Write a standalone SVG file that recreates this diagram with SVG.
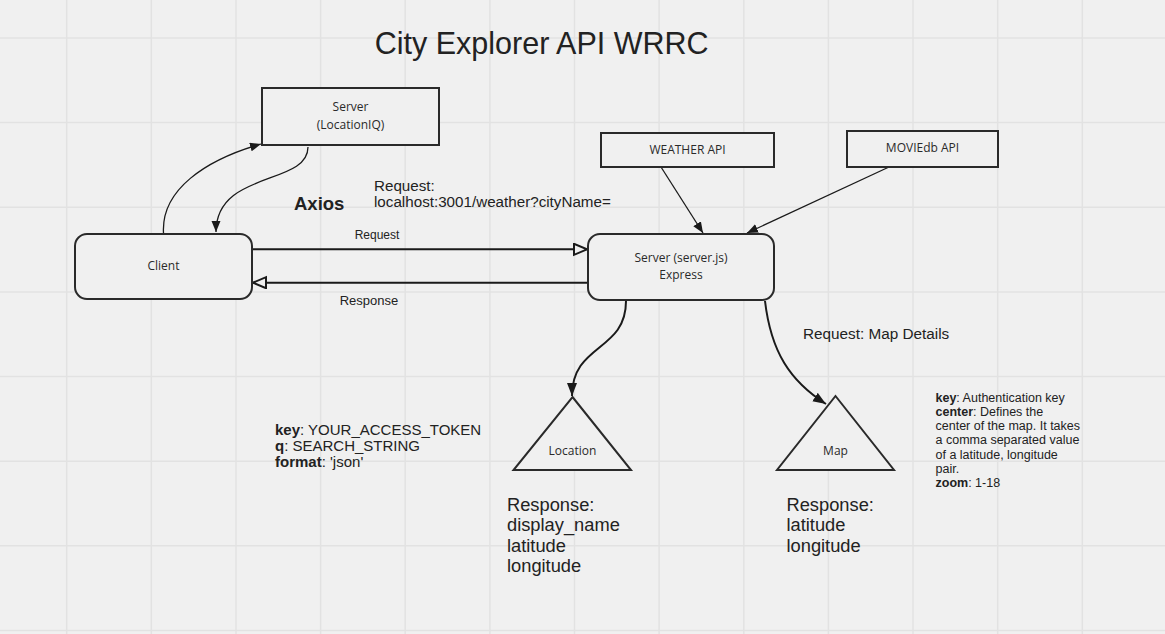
<svg xmlns="http://www.w3.org/2000/svg" width="1165" height="634" viewBox="0 0 1165 634">
<style>
.grid{stroke:#e2e2e2;stroke-width:1.5;fill:none}
.box{fill:#f0f0f0;stroke:#2a2a2a;stroke-width:2}
.lbl{font-family:"Open Sans","Liberation Sans",sans-serif;font-size:12px;fill:#2a2a2a;text-anchor:middle}
.t{font-family:"Liberation Sans",Arial,sans-serif;fill:#222}
.thin{fill:none;stroke:#1a1a1a;stroke-width:1.3}
.thick{fill:none;stroke:#1a1a1a;stroke-width:2}
</style>
<defs>
<marker id="ah" markerUnits="userSpaceOnUse" markerWidth="12" markerHeight="10" refX="11" refY="4.5" orient="auto"><path d="M0,0 L11,4.5 L0,9 z" fill="#1a1a1a"/></marker>
<marker id="ahb" markerUnits="userSpaceOnUse" markerWidth="14" markerHeight="12" refX="13" refY="5" orient="auto"><path d="M0,0 L13,5 L0,10 z" fill="#1a1a1a"/></marker>
<marker id="hol" markerUnits="userSpaceOnUse" markerWidth="16" markerHeight="14" refX="14" refY="6.5" orient="auto"><path d="M1,1 L14,6.5 L1,12 z" fill="#f0f0f0" stroke="#1a1a1a" stroke-width="2"/></marker>
</defs>
<rect x="0" y="0" width="1165" height="634" fill="#f0f0f0"/>
<g id="grid">
<path class="grid" d="M66.7,0V634 M151.3,0V634 M236,0V634 M320.6,0V634 M405.2,0V634 M489.9,0V634 M574.5,0V634 M659.1,0V634 M743.8,0V634 M828.4,0V634 M913,0V634 M997.7,0V634 M1082.3,0V634 M0,38H1165 M0,122.6H1165 M0,207.3H1165 M0,291.9H1165 M0,376.5H1165 M0,461.2H1165 M0,545.8H1165 M0,630.4H1165"/>
</g>
<text class="t" x="541.7" y="54" font-size="30.5" text-anchor="middle">City Explorer API WRRC</text>
<g id="connectors">
<path class="thin" d="M163.5,233 C161,190 205,160 261,144" marker-end="url(#ah)"/>
<path class="thin" d="M308,147 C308,186 216,170 216,232" marker-end="url(#ah)"/>
<path class="thick" d="M252,249.3 H587" marker-end="url(#hol)"/>
<path class="thick" d="M588,282.7 H253" marker-end="url(#hol)"/>
<path class="thin" d="M661,167 L703,233" marker-end="url(#ah)"/>
<path class="thin" d="M889,167 L747,233" marker-end="url(#ah)"/>
<path class="thick" d="M626,301 C626,352 572,343 572,396" marker-end="url(#ahb)"/>
<path class="thick" d="M765,301 C771,352 790,381 826,404" marker-end="url(#ahb)"/>
</g>
<g id="server-locationiq">
<rect class="box" x="262" y="88" width="177" height="57"/>
<text class="lbl" x="350.5" y="111">Server</text>
<text class="lbl" x="350.5" y="129">(LocationIQ)</text>
</g>
<g id="client">
<rect class="box" x="75" y="234" width="177" height="65" rx="12"/>
<text class="lbl" x="163.5" y="270">Client</text>
</g>
<g id="server-express">
<rect class="box" x="588" y="234" width="186" height="66" rx="12"/>
<text class="lbl" x="681" y="262">Server (server.js)</text>
<text class="lbl" x="681" y="279">Express</text>
</g>
<g id="weather-api">
<rect class="box" x="601" y="133" width="173" height="34"/>
<text class="lbl" x="687.5" y="154">WEATHER API</text>
</g>
<g id="moviedb-api">
<rect class="box" x="847" y="131" width="151" height="36"/>
<text class="lbl" x="922.5" y="152">MOVIEdb API</text>
</g>
<g id="location">
<path class="box" d="M572.5,397 L631,470 L513.5,470 Z"/>
<text class="lbl" x="572.5" y="455">Location</text>
</g>
<g id="map">
<path class="box" d="M835.5,396 L894,470 L777,470 Z"/>
<text class="lbl" x="835.5" y="455">Map</text>
</g>
<g id="labels">
<text class="t" x="294" y="209.5" font-size="18.5" font-weight="bold">Axios</text>
<text class="t" x="374" y="191" font-size="15.2">Request:</text>
<text class="t" x="374" y="206.5" font-size="15.2">localhost:3001/weather?cityName=</text>
<text class="t" x="377" y="239" font-size="12" text-anchor="middle">Request</text>
<text class="t" x="369" y="305" font-size="13" text-anchor="middle">Response</text>
<text class="t" x="803" y="338.5" font-size="15.3">Request: Map Details</text>
<text class="t" font-size="15">
<tspan x="275" y="435"><tspan font-weight="bold">key</tspan>: YOUR_ACCESS_TOKEN</tspan>
<tspan x="275" y="451"><tspan font-weight="bold">q</tspan>: SEARCH_STRING</tspan>
<tspan x="275" y="467"><tspan font-weight="bold">format</tspan>: 'json'</tspan>
</text>
<text class="t" font-size="12.5">
<tspan x="935.5" y="401.7"><tspan font-weight="bold">key</tspan>: Authentication key</tspan>
<tspan x="935.5" y="415.9"><tspan font-weight="bold">center</tspan>: Defines the</tspan>
<tspan x="935.5" y="430.1">center of the map. It takes</tspan>
<tspan x="935.5" y="444.3">a comma separated value</tspan>
<tspan x="935.5" y="458.5">of a latitude, longitude</tspan>
<tspan x="935.5" y="472.7">pair.</tspan>
<tspan x="935.5" y="486.9"><tspan font-weight="bold">zoom</tspan>: 1-18</tspan>
</text>
<text class="t" font-size="18.3">
<tspan x="507" y="510.7">Response:</tspan>
<tspan x="507" y="531">display_name</tspan>
<tspan x="507" y="551.5">latitude</tspan>
<tspan x="507" y="572">longitude</tspan>
</text>
<text class="t" font-size="18.3">
<tspan x="786.5" y="510.7">Response:</tspan>
<tspan x="786.5" y="531">latitude</tspan>
<tspan x="786.5" y="551.5">longitude</tspan>
</text>
</g>
</svg>
